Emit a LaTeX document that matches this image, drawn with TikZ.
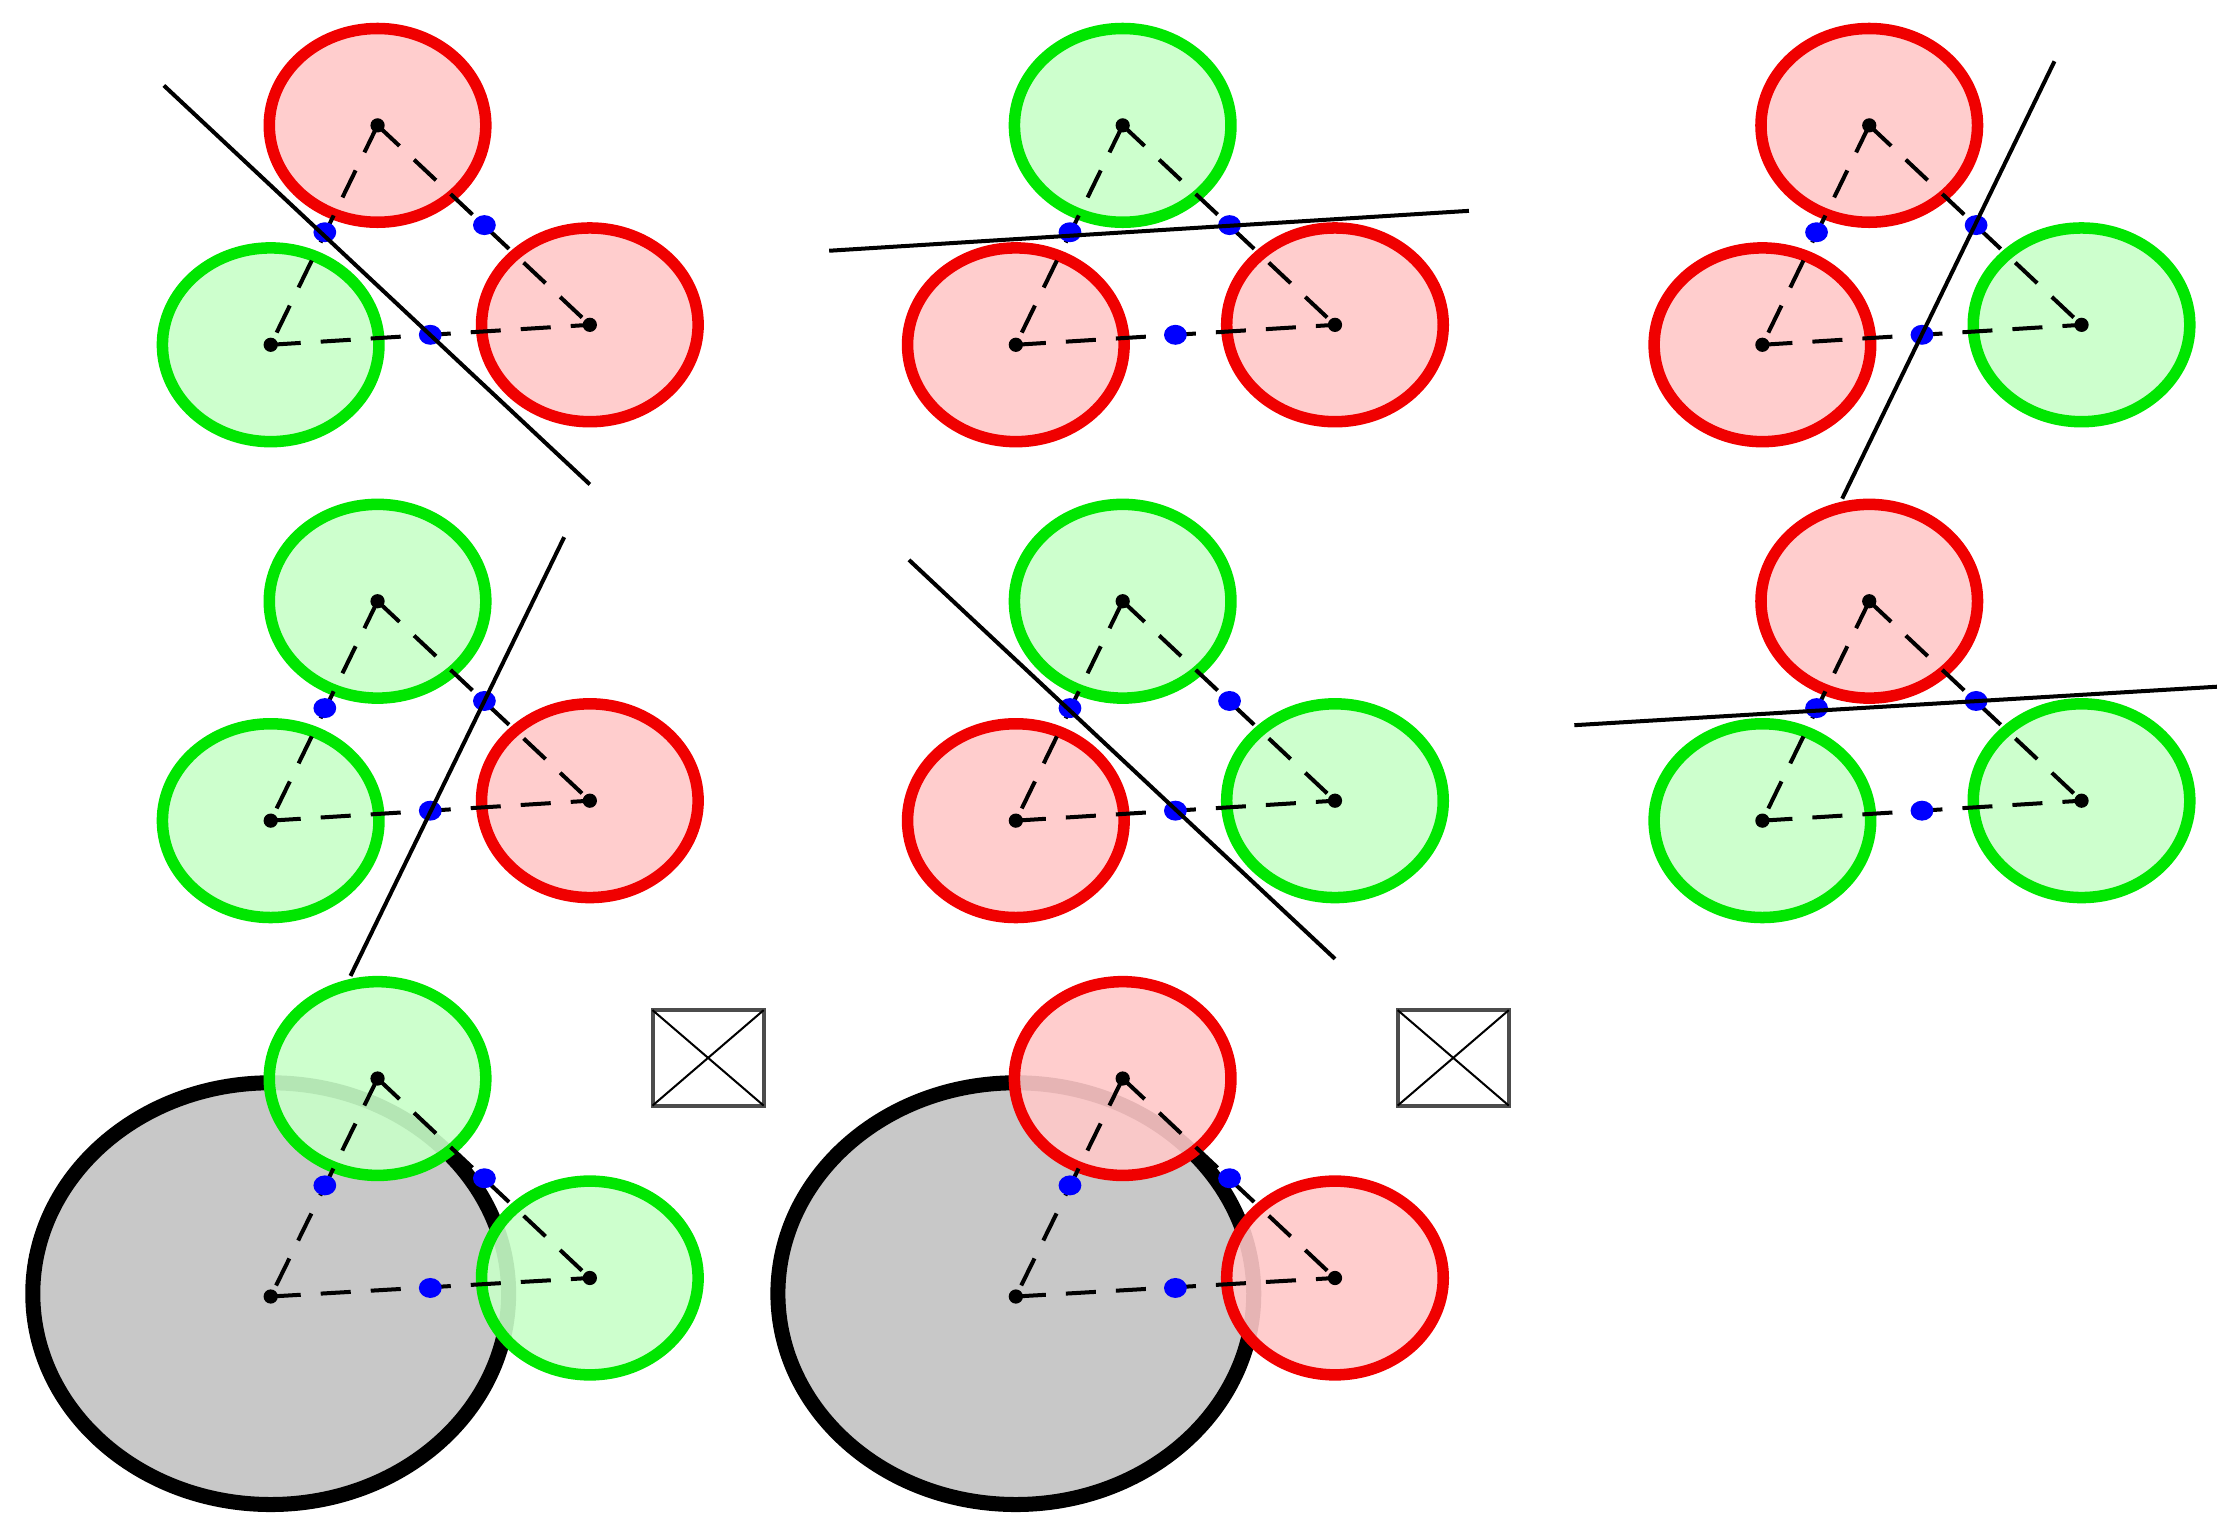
\documentclass[tikz,border=0pt]{standalone}
\begin{document}
\begin{tikzpicture}[x=0.01cm,y=-0.01cm,
 rc/.style={draw={rgb,255:red,240;green,0;blue,0},fill={rgb,255:red,255;green,200;blue,200},fill opacity=0.9,line width=2.3pt},
 gc/.style={draw={rgb,255:red,0;green,230;blue,0},fill={rgb,255:red,200;green,255;blue,200},fill opacity=0.9,line width=2.3pt},
 dl/.style={thick,dash pattern=on 6pt off 4pt},
 sep/.style={thick}]
\useasboundingbox (0,0) rectangle (1568,1073);
\newcommand{\panel}[6]{%
\begin{scope}[shift={(#1,#2)}]
 \path[#4] (190,242) ellipse (76 and 68);
 \path[#3] (265,88) ellipse (76 and 68);
 \path[#5] (414,228) ellipse (76 and 68);
 \coordinate (t) at (265,88); \coordinate (l) at (190,242); \coordinate (r) at (414,228);
 \draw[dl] (t)--(l); \draw[dl] (t)--(r); \draw[dl] (l)--(r);
 \foreach \p in {t,l,r}{\fill (\p) circle (5);}
 \foreach \p in {(228,163),(340,158),(302,235)}{\fill[blue] \p ellipse (8 and 7);}
 #6
\end{scope}}
\panel{0}{0}{rc}{gc}{rc}{\draw[sep] (115,60)--(414,340);}
\panel{523}{0}{gc}{rc}{rc}{\draw[sep] (59,176)--(508,148);}
\panel{1047}{0}{rc}{rc}{gc}{\draw[sep] (246,350)--(395,43);}
\panel{0}{334}{gc}{gc}{rc}{\draw[sep] (246,351)--(396,43);}
\panel{523}{334}{gc}{rc}{gc}{\draw[sep] (115,59)--(414,339);}
\panel{1047}{334}{rc}{gc}{gc}{\draw[sep] (58,175)--(509,148);}
\foreach \dx/\c in {0/gc,523/rc}{
\begin{scope}[shift={(\dx,669)}]
 \path[draw=black,fill={rgb,255:red,200;green,200;blue,200},line width=3pt] (190,239) ellipse (167 and 148);
 \path[\c] (265,88) ellipse (76 and 68);
 \path[\c] (414,228) ellipse (76 and 68);
 \coordinate (t) at (265,88); \coordinate (l) at (190,241); \coordinate (r) at (414,228);
 \draw[dl] (t)--(l); \draw[dl] (t)--(r); \draw[dl] (l)--(r);
 \foreach \p in {t,l,r}{\fill (\p) circle (5);}
 \foreach \p in {(228,163),(340,158),(302,235)}{\fill[blue] \p ellipse (8 and 7);}
 \draw[thick,gray!60!black] (458,40) rectangle (536,107);
 \draw[thin] (458,40)--(536,107) (458,107)--(536,40);
\end{scope}}
\end{tikzpicture}
\end{document}
